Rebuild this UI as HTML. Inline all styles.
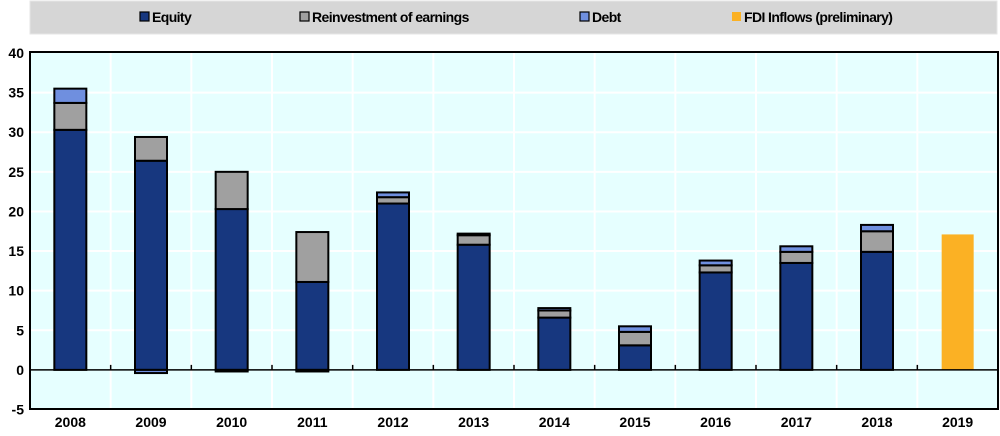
<!DOCTYPE html>
<html><head><meta charset="utf-8"><style>
body{margin:0;background:#fff;width:1000px;height:431px;overflow:hidden}
svg text{font-family:"Liberation Sans",Arial,sans-serif;font-weight:bold;fill:#000}
</style></head><body>
<svg id="chart" width="1000" height="431" xmlns="http://www.w3.org/2000/svg">
<rect x="30" y="1" width="967" height="33" fill="#d6d6d6" stroke="#e6e6e6"/>
<g id="legend"></g>
<rect x="30" y="52" width="968" height="357" fill="#e6ffff"/>
<g id="grid"></g><g id="bars"></g><g id="axes"></g>
<rect x="30" y="52" width="968" height="357" fill="none" stroke="#000" stroke-width="2"/>
</svg>
<script>
const categories=["2008","2009","2010","2011","2012","2013","2014","2015","2016","2017","2018","2019"];
const equity=[30.3,26.4,20.3,11.1,21.0,15.8,6.6,3.1,12.3,13.5,14.9,0];
const reinvestment=[3.4,3.0,4.7,6.3,0.8,1.2,0.9,1.7,0.9,1.4,2.6,0];
const debt=[1.8,-0.4,-0.2,-0.2,0.6,0.2,0.3,0.7,0.6,0.7,0.8,0];
const fdiPreliminary=[0,0,0,0,0,0,0,0,0,0,0,17.1];
const yTicks=[-5,0,5,10,15,20,25,30,35,40];
const NS="http://www.w3.org/2000/svg";
const L=30,R=998,T=53,B=409.5,yMin=-5,yMax=40;
const y=v=>B-(v-yMin)/(yMax-yMin)*(B-T);
const band=(R-L)/categories.length;
const xc=i=>L+band*(i+0.5);
const bw=32;
function mk(tag,attrs,parent){const e=document.createElementNS(NS,tag);for(const k in attrs)e.setAttribute(k,attrs[k]);parent.appendChild(e);return e;}
const grid=document.getElementById('grid'),bars=document.getElementById('bars'),axes=document.getElementById('axes'),legend=document.getElementById('legend');
yTicks.forEach(t=>{
 if(t!==0&&t!==yMin&&t!==yMax){const g=mk('line',{x1:L,x2:R,y1:y(t),y2:y(t),stroke:'#fff','stroke-width':2},grid);
 
 }
 const tx=mk('text',{x:24,y:y(t)+5,'text-anchor':'end','font-size':14},axes);tx.textContent=t;
 
 
});
for(let i=1;i<categories.length;i++){const g=mk('line',{x1:L+band*i,x2:L+band*i,y1:T,y2:B,stroke:'#fff','stroke-width':2},grid);
 
 
 const tk=mk('line',{x1:L+band*i,x2:L+band*i,y1:y(0),y2:y(0)-5,stroke:'#000','stroke-width':1.5},axes);
 
 }
const series=[[equity,'#17377f','equity'],[reinvestment,'#a0a0a0','reinvestment'],[debt,'#6f8fdf','debt']];
categories.forEach((c,i)=>{
 let pos=0,neg=0;
 series.forEach(([arr,col,nm])=>{const v=arr[i];if(!v)return;let a,b;
  if(v>0){a=pos;b=pos+v;pos=b}else{a=neg;b=neg+v;neg=b}
  const r=mk('rect',{x:xc(i)-bw/2,y:y(Math.max(a,b)),width:bw,height:Math.abs(y(a)-y(b)),fill:col,stroke:'#000','stroke-width':2},bars);
  
  });
 if(fdiPreliminary[i]){const r=mk('rect',{x:xc(i)-bw/2,y:y(fdiPreliminary[i]),width:bw,height:y(0)-y(fdiPreliminary[i]),fill:'#fbb124'},bars);
  
  }
 const tx=mk('text',{x:xc(i),y:427,'text-anchor':'middle','font-size':14},axes);tx.textContent=c;
 
 
});
const z=mk('line',{x1:L,x2:R,y1:y(0),y2:y(0),stroke:'#000','stroke-width':1.5},axes);


const leg=[["Equity",'#17377f',140,true],["Reinvestment of earnings",'#a0a0a0',300,true],["Debt",'#6f8fdf',580,true],["FDI Inflows (preliminary)",'#fbb124',732,false]];
leg.forEach(([t,col,x,st])=>{
 const r=mk('rect',{x:x,y:12,width:9,height:9,fill:col},legend);if(st){r.setAttribute('stroke','#000');r.setAttribute('stroke-width','1.2');}
 
 
 const tx=mk('text',{x:x+12,y:22,'font-size':14,'letter-spacing':'-0.6'},legend);tx.textContent=t;
 
 
});
</script>
</body></html>
